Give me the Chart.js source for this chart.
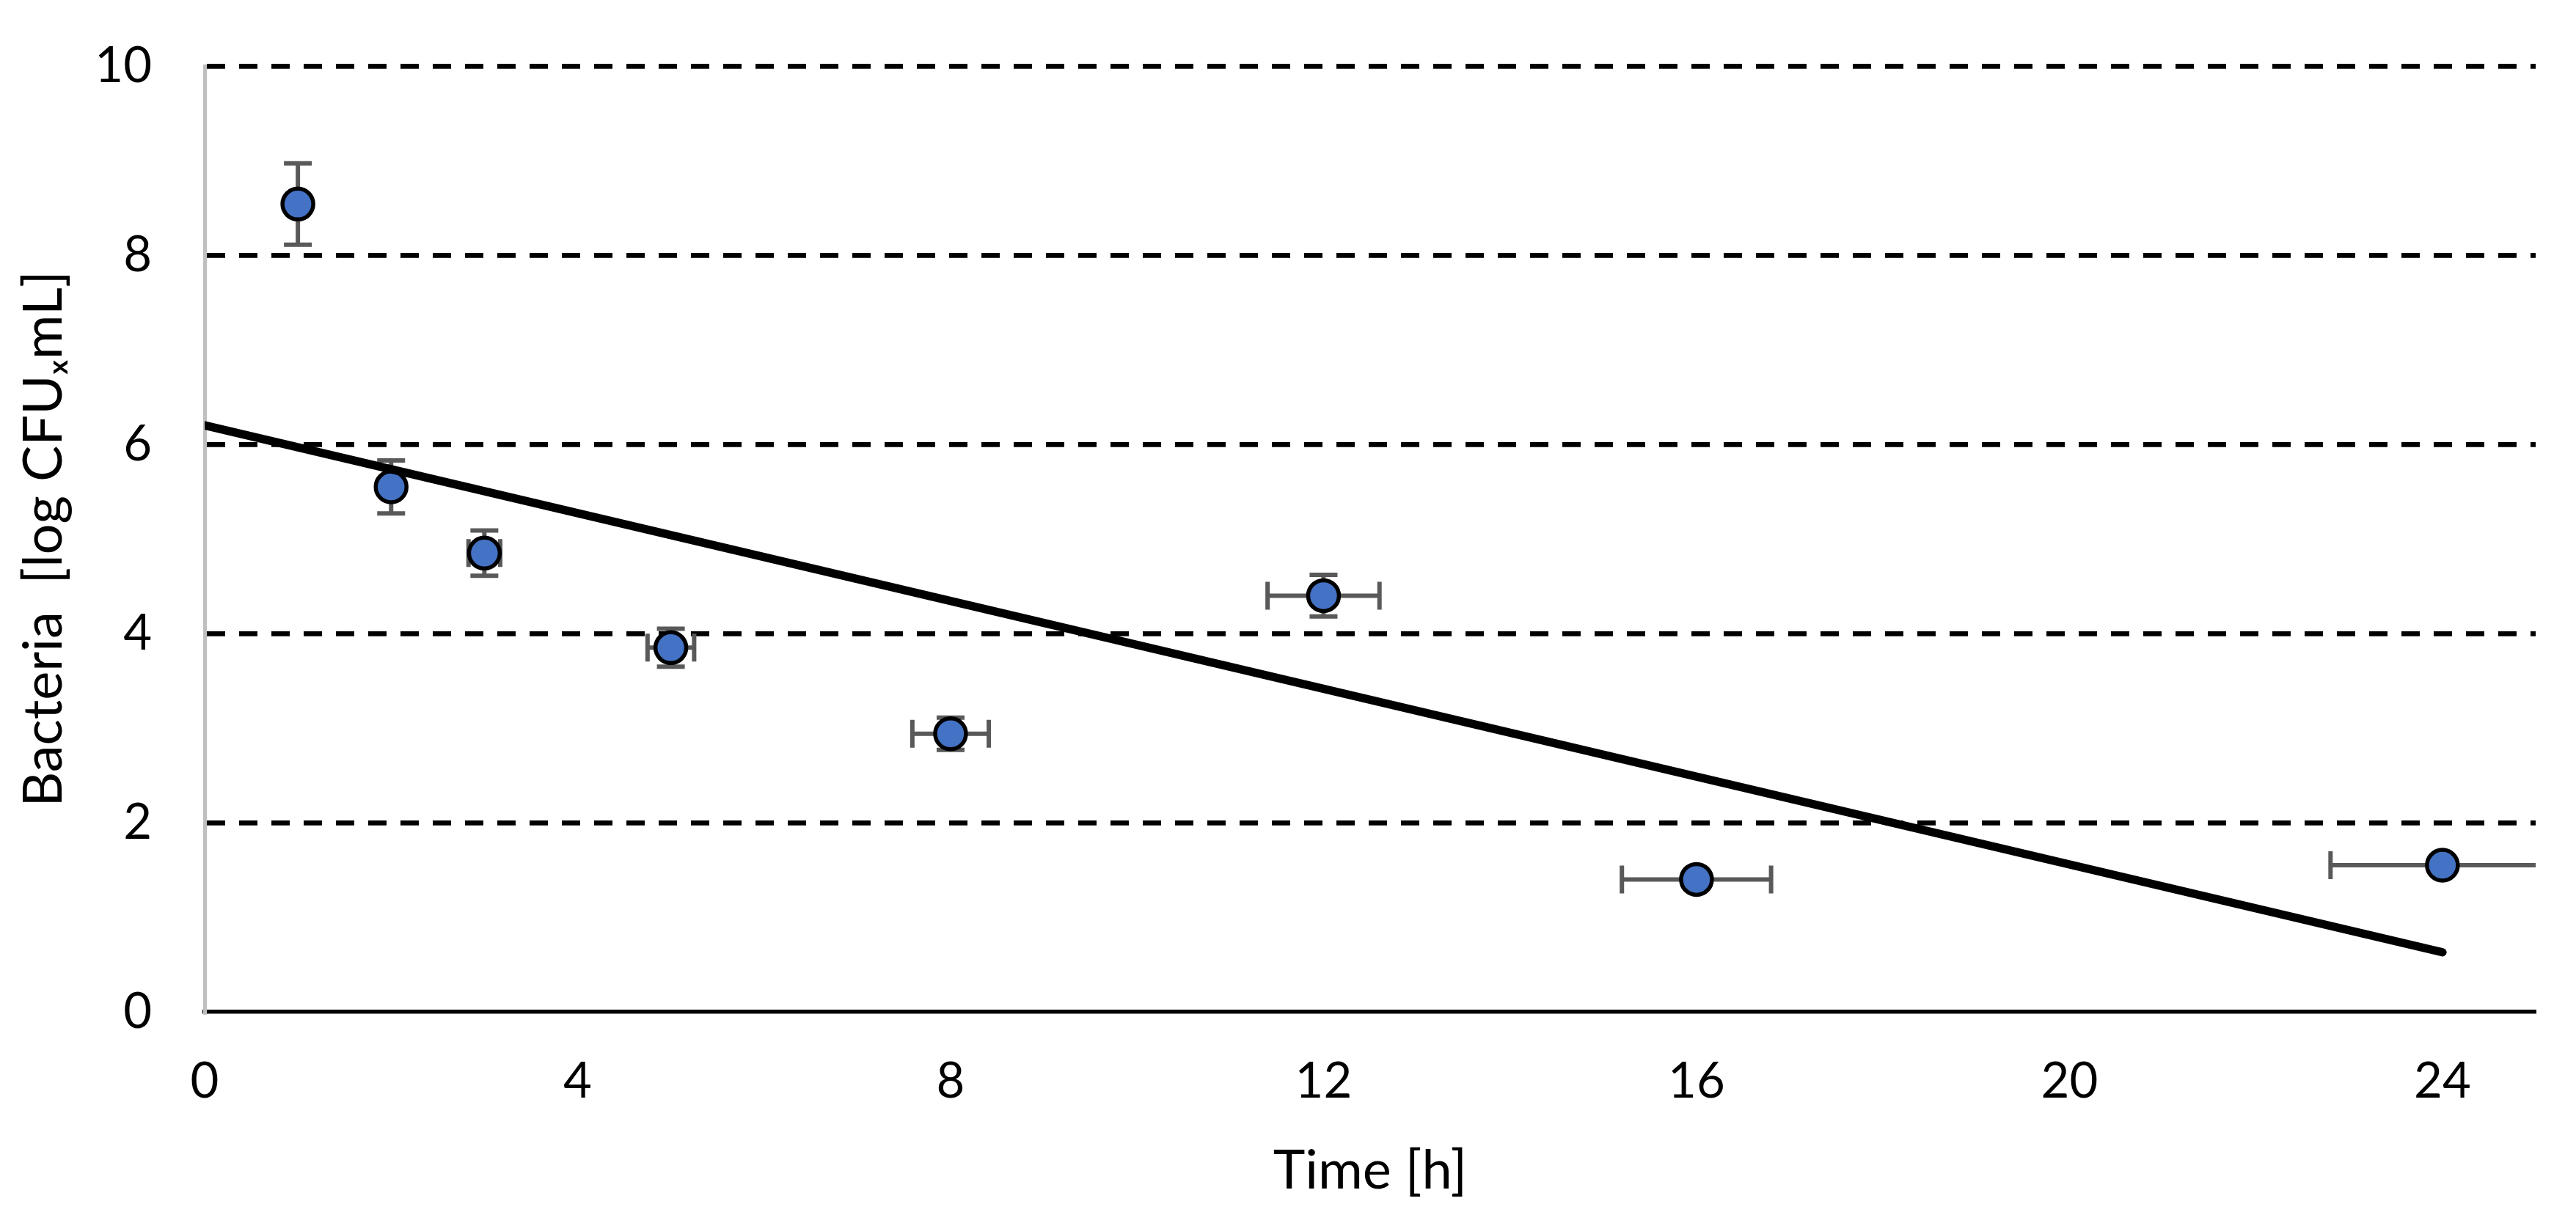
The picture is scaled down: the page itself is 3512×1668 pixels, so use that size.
<!DOCTYPE html>
<html>
<head>
<meta charset="utf-8">
<script src="https://cdn.jsdelivr.net/npm/chart.js@4.4.1/dist/chart.umd.min.js"></script>
<style>
  html, body { margin: 0; padding: 0; background: #ffffff; overflow: hidden; }
  canvas { display: block; }
</style>
</head>
<body>
<canvas id="c" width="3512" height="1668"></canvas>
<script>
// ---- data ----
const times      = [1, 2, 3, 5, 8, 12, 16, 24];
const bacteria   = [8.54, 5.55, 4.85, 3.85, 2.94, 4.40, 1.40, 1.55];
const yErrors    = [0.43, 0.28, 0.24, 0.20, 0.17, 0.22, 0.08, 0.08];
const xErrors    = [0, 0, 0.17, 0.25, 0.41, 0.60, 0.80, 1.20];
const trendTimes = [0, 24];
const trendVals  = [6.2, 0.63];
const xTitle = 'Time [h]';
const yTitle = 'Bacteria  [log CFU\u2093mL]';

Chart.defaults.font.family = 'Lato';
Chart.defaults.color = '#000000';

const errorBarPlugin = {
  id: 'errorBars',
  beforeDatasetsDraw(chart) {
    const ctx = chart.ctx;
    const xs = chart.scales.x, ys = chart.scales.y;
    const area = chart.chartArea;
    const cap = 19;
    ctx.save();
    ctx.beginPath();
    ctx.rect(area.left, area.top, area.right - area.left, area.bottom - area.top);
    ctx.clip();
    ctx.strokeStyle = '#595959';
    ctx.lineWidth = 6;
    ctx.lineCap = 'butt';
    for (let i = 0; i < times.length; i++) {
      const px = xs.getPixelForValue(times[i]);
      const py = ys.getPixelForValue(bacteria[i]);
      const yTop = ys.getPixelForValue(bacteria[i] + yErrors[i]);
      const yBot = ys.getPixelForValue(bacteria[i] - yErrors[i]);
      ctx.beginPath();
      ctx.moveTo(px, yTop); ctx.lineTo(px, yBot);
      ctx.moveTo(px - cap, yTop); ctx.lineTo(px + cap, yTop);
      ctx.moveTo(px - cap, yBot); ctx.lineTo(px + cap, yBot);
      ctx.stroke();
      const xL = xs.getPixelForValue(times[i] - xErrors[i]);
      const xR = xs.getPixelForValue(times[i] + xErrors[i]);
      ctx.beginPath();
      ctx.moveTo(xL, py); ctx.lineTo(xR, py);
      ctx.moveTo(xL, py - cap); ctx.lineTo(xL, py + cap);
      ctx.moveTo(xR, py - cap); ctx.lineTo(xR, py + cap);
      ctx.stroke();
    }
    ctx.restore();
  }
};

function resetPadding(scale) {
  scale.paddingTop = 0; scale.paddingBottom = 0;
  scale.paddingLeft = 0; scale.paddingRight = 0;
}

new Chart(document.getElementById('c'), {
  type: 'scatter',
  data: {
    datasets: [
      {
        type: 'line',
        label: 'Trend',
        data: trendTimes.map((t, i) => ({ x: t, y: trendVals[i] })),
        borderColor: '#000000',
        borderWidth: 11.5,
        borderCapStyle: 'round',
        pointRadius: 0,
        fill: false,
        order: 0
      },
      {
        label: 'Bacteria',
        data: times.map((t, i) => ({ x: t, y: bacteria[i] })),
        backgroundColor: '#4472C4',
        borderColor: '#000000',
        borderWidth: 5.5,
        pointRadius: 21,
        pointHoverRadius: 21,
        order: 1
      }
    ]
  },
  options: {
    responsive: false,
    animation: false,
    devicePixelRatio: 1,
    events: [],
    layout: { autoPadding: false, padding: { top: 90, right: 55, left: 0, bottom: 0 } },
    plugins: { legend: { display: false }, tooltip: { enabled: false } },
    scales: {
      x: {
        type: 'linear',
        min: 0, max: 25,
        grid: { display: false, drawTicks: false },
        border: { display: true, color: '#000000', width: 5.5 },
        ticks: { stepSize: 4, includeBounds: false, padding: 55, font: { size: 67 }, color: '#000000', maxRotation: 0 },
        title: { display: true, text: xTitle, font: { size: 74 }, color: '#000000', padding: { top: 0, bottom: 26 } },
        afterFit(scale) { scale.height = 288; resetPadding(scale); }
      },
      y: {
        type: 'linear',
        min: 0, max: 10,
        grid: {
          drawTicks: false,
          lineWidth: 6.7,
          color: (c) => (c.tick && c.tick.value === 0) ? 'rgba(0,0,0,0)' : '#000000'
        },
        border: { display: true, color: '#BFBFBF', width: 5, dash: [25, 19] },
        ticks: { stepSize: 2, padding: 72, font: { size: 67 }, color: '#000000' },
        title: { display: true, text: yTitle, font: { size: 74 }, color: '#000000', padding: { top: 16, bottom: 0 } },
        afterFit(scale) { scale.width = 279; resetPadding(scale); }
      }
    }
  },
  plugins: [errorBarPlugin]
});
</script>
</body>
</html>
